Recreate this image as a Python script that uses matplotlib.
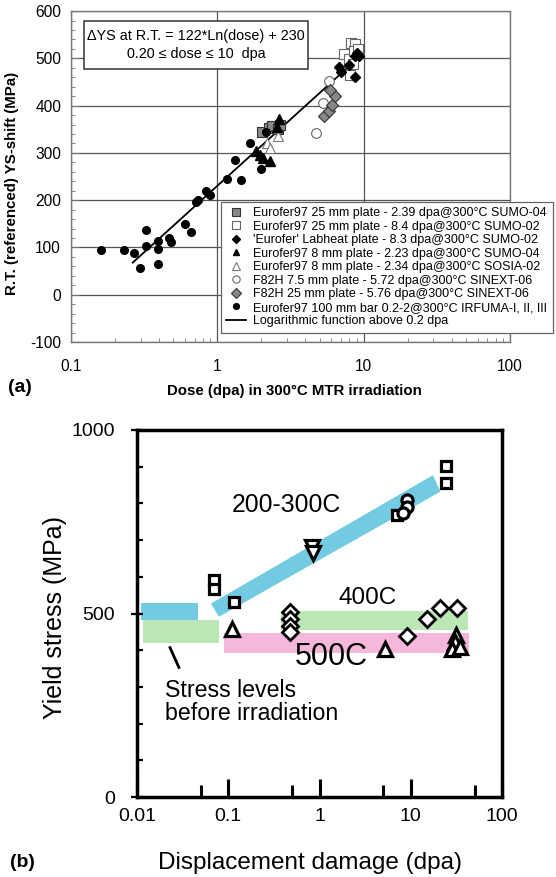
import numpy as np
import matplotlib.pyplot as plt
from matplotlib.patches import Rectangle
from matplotlib.ticker import FixedLocator, NullFormatter, MultipleLocator, LogLocator

plt.rcParams['font.family'] = ['Liberation Sans', 'DejaVu Sans']
plt.rcParams['axes.unicode_minus'] = False

## ---- panel (a) data : dose (dpa) / YS-shift (MPa)
irfuma_dose = [0.16, 0.231, 0.27, 0.297, 0.326, 0.326, 0.393, 0.396, 0.394, 0.471, 0.482,
               0.606, 0.66, 0.717, 0.744, 0.836, 0.894, 1.16, 1.32, 1.46, 1.68, 2.0, 2.16]
irfuma_ys = [94, 94, 89, 56, 137, 104, 114, 96, 64, 121, 111,
             150, 133, 197, 200, 220, 211, 245, 284, 243, 320, 266, 345]

sumo04_sq_dose = [2.02, 2.25, 2.36, 2.6, 2.7]
sumo04_sq_ys = [344, 352, 357, 350, 360]

sumo02_sq_dose = [7.3, 7.9, 8.2, 8.8, 8.6, 8.4, 8.1, 9.2]
sumo02_sq_ys = [510, 498, 532, 530, 515, 488, 465, 520]

labheat_dose = [6.75, 7.0, 8.0, 8.7, 9.0, 9.3, 8.7]
labheat_ys = [482, 472, 485, 505, 512, 505, 460]

sumo04_tri_dose = [1.85, 1.97, 2.07, 2.3, 2.66, 2.55]
sumo04_tri_ys = [305, 296, 289, 282, 372, 355]

sosia_dose = [2.2, 2.3, 2.6]
sosia_ys = [320, 310, 335]

f82h_75_dose = [4.74, 5.3, 5.8]
f82h_75_ys = [342, 405, 452]

f82h_25_dose = [5.38, 5.76, 6.1, 6.4, 5.9]
f82h_25_ys = [379, 388, 402, 420, 432]

fit_dose = [0.265, 9.2]      # ends of 122*Ln(dose)+230
fit_ys = [68, 501]

## ---- panel (b) data : dpa / yield stress (MPa)
sq_dpa = [0.07, 0.07, 0.116, 7.1, 24.5, 24.5]
sq_ys = [591, 568, 532, 768, 903, 855]
circ_dpa = [9.0, 9.0, 8.3]
circ_ys = [810, 790, 775]
vtri_dpa = [0.82, 0.85]
vtri_ys = [682, 665]
tri_dpa = [0.111, 5.2, 31.0, 30.8, 28.6, 34.3]
tri_ys = [459, 402, 441, 423, 402, 409]
dia_dpa = [0.47, 0.47, 0.47, 0.47, 9.1, 15.1, 21.1, 32.1]
dia_ys = [505, 485, 465, 450, 438, 484, 514, 514]

blue_left_x = [0.0112, 0.0462, 0.0462, 0.0112]
blue_left_y = [482, 482, 529, 529]
green_left_x = [0.0115, 0.079, 0.079, 0.0115]
green_left_y = [420, 420, 482, 482]
pink_x = [0.0896, 44, 44, 0.0896]
pink_y = [393, 393, 446, 446]
green_right_x = [0.38, 42.4, 42.4, 0.38]
green_right_y = [455, 455, 507, 507]
blue_band_x = [0.0646, 17.5, 21.1, 0.079]
blue_band_y = [527, 877, 832, 491]
pointer_x = [0.023, 0.0288]
pointer_y = [407, 353]

fig = plt.figure(figsize=(5.56, 8.77), dpi=100)

## ================= (a)
ax = fig.add_axes([0.1273, 0.61, 0.79, 0.3774])
ax.set_xscale('log')
ax.set_xlim(0.1, 100)
ax.set_ylim(-100, 600)
ax.set_yticks(np.arange(-100, 601, 100))
ax.yaxis.set_minor_locator(MultipleLocator(20))
ax.set_xticks([0.1, 1, 10, 100])
ax.set_xticklabels(['0.1', '1', '10', '100'])
ax.xaxis.set_minor_locator(LogLocator(base=10, subs=np.arange(2, 10)))
ax.xaxis.set_minor_formatter(NullFormatter())
ax.tick_params(which='both', direction='in', colors='#777', labelcolor='black', labelsize=11.2)
ax.tick_params(axis='y', which='major', length=6, pad=7)
ax.tick_params(axis='y', which='minor', length=3)
ax.tick_params(axis='x', which='major', length=0, pad=12)
ax.tick_params(axis='x', which='minor', length=3)
for s in ax.spines.values():
    s.set_color('#777')
    s.set_linewidth(1.0)
ax.grid(True, which='major', color='#555', linewidth=0.9)
ax.set_axisbelow(True)

ax.plot(fit_dose, fit_ys, color='black', lw=1.3, zorder=3, label='Logarithmic function above 0.2 dpa')
ax.plot(sumo04_sq_dose, sumo04_sq_ys, 's', ms=7, mfc='#888', mec='#333', mew=0.8, zorder=4,
        label='Eurofer97 25 mm plate - 2.39 dpa@300°C SUMO-04')
ax.plot(sumo02_sq_dose, sumo02_sq_ys, 's', ms=7, mfc='white', mec='#666', mew=0.8, zorder=4,
        label='Eurofer97 25 mm plate - 8.4 dpa@300°C SUMO-02')
ax.plot(labheat_dose, labheat_ys, 'D', ms=5.5, mfc='black', mec='black', zorder=5,
        label="'Eurofer' Labheat plate - 8.3 dpa@300°C SUMO-02")
ax.plot(sumo04_tri_dose, sumo04_tri_ys, '^', ms=6.5, mfc='black', mec='black', zorder=5,
        label='Eurofer97 8 mm plate - 2.23 dpa@300°C SUMO-04')
ax.plot(sosia_dose, sosia_ys, '^', ms=7, mfc='white', mec='#777', mew=0.8, zorder=4,
        label='Eurofer97 8 mm plate - 2.34 dpa@300°C SOSIA-02')
ax.plot(f82h_75_dose, f82h_75_ys, 'o', ms=7, mfc='white', mec='#666', mew=0.8, zorder=4,
        label='F82H 7.5 mm plate - 5.72 dpa@300°C SINEXT-06')
ax.plot(f82h_25_dose, f82h_25_ys, 'D', ms=6.5, mfc='#888', mec='#333', mew=0.8, zorder=4,
        label='F82H 25 mm plate - 5.76 dpa@300°C SINEXT-06')
ax.plot(irfuma_dose, irfuma_ys, 'o', ms=5.5, mfc='black', mec='black', zorder=5,
        label='Eurofer97 100 mm bar 0.2-2@300°C IRFUMA-I, II, III')

h, l = ax.get_legend_handles_labels()
order = [1, 2, 3, 4, 5, 6, 7, 8, 0]
leg = fig.legend([h[i] for i in order], [l[i] for i in order], loc='upper left',
                 bbox_to_anchor=(0.397, 0.770), fontsize=9, frameon=True, fancybox=False,
                 edgecolor='#666', framealpha=1, borderpad=0.45, borderaxespad=0,
                 handlelength=1.6, handletextpad=0.55, labelspacing=0.12, markerscale=0.75)
leg.get_frame().set_linewidth(0.9)

ax.add_patch(Rectangle((0.030, 0.824), 0.510, 0.147, transform=ax.transAxes,
                       facecolor='white', edgecolor='#333', lw=1.1, zorder=6))
ax.text(0.285, 0.897, 'ΔYS at R.T. = 122*Ln(dose) + 230\n0.20 ≤ dose ≤ 10  dpa',
        transform=ax.transAxes, ha='center', va='center', fontsize=10.4, linespacing=1.4, zorder=7)

ax.set_ylabel('R.T. (referenced) YS-shift (MPa)', fontsize=10.8, fontweight='bold')
ax.yaxis.set_label_coords(-0.117, 0.48)
ax.set_xlabel('Dose (dpa) in 300°C MTR irradiation', fontsize=10.8, fontweight='bold')
ax.xaxis.set_label_coords(0.508, -0.127)
fig.text(0.035, 0.5576, '(a)', fontsize=14, fontweight='bold', ha='center', va='center')

## ================= (b)
bx = fig.add_axes([0.2464, 0.0912, 0.6565, 0.4185])
bx.set_xscale('log')
bx.set_xlim(0.01, 100)
bx.set_ylim(0, 1000)

bx.fill(blue_left_x, blue_left_y, color='#72cbe0', lw=0, zorder=1)
bx.fill(green_left_x, green_left_y, color='#bde6b6', lw=0, zorder=1)
bx.fill(pink_x, pink_y, color='#f5b8da', lw=0, zorder=1)
bx.fill(green_right_x, green_right_y, color='#bde6b6', lw=0, zorder=1)
bx.fill(blue_band_x, blue_band_y, color='#72cbe0', lw=0, zorder=1)
bx.plot(pointer_x, pointer_y, color='black', lw=2, zorder=2)

mk = dict(ls='none', mfc='white', mec='black', zorder=4)
bx.plot(sq_dpa, sq_ys, 's', ms=7, mew=2.3, **mk)
bx.plot(circ_dpa, circ_ys, 'o', ms=8, mew=2.3, **mk)
bx.plot(vtri_dpa, vtri_ys, 'v', ms=10, mew=2.3, **mk)
bx.plot(tri_dpa, tri_ys, '^', ms=10, mew=2.3, **mk)
bx.plot(dia_dpa, dia_ys, 'D', ms=8, mew=2.0, **mk)

bx.text(0.11, 795, '200-300C', fontsize=17.8, va='center', ha='left')
bx.text(1.6, 542, '400C', fontsize=17.5, va='center', ha='left')
bx.text(0.53, 381, '500C', fontsize=22, va='center', ha='left')
bx.text(0.0202, 258, 'Stress levels\nbefore irradiation', fontsize=16.7, va='center', ha='left',
        linespacing=1.0)

bx.xaxis.set_major_locator(FixedLocator([0.01, 0.1, 1, 10, 100]))
bx.xaxis.set_minor_locator(FixedLocator([0.05, 0.5, 5, 50]))
bx.xaxis.set_minor_formatter(NullFormatter())
bx.set_xticklabels(['0.01', '0.1', '1', '10', '100'])
bx.yaxis.set_major_locator(FixedLocator([0, 500, 1000]))
bx.yaxis.set_minor_locator(MultipleLocator(100))
bx.set_yticklabels(['0', '500', '1000'])
bx.tick_params(axis='x', which='major', direction='in', length=13, width=2.2, labelsize=14, pad=8)
bx.tick_params(axis='x', which='minor', direction='in', length=8.5, width=2.2)
bx.tick_params(axis='y', which='major', direction='inout', length=8, width=1.6, labelsize=14, pad=12)
bx.tick_params(axis='y', which='minor', direction='in', length=4, width=1.6)
for s in bx.spines.values():
    s.set_linewidth(2.5)

bx.set_ylabel('Yield stress (MPa)', fontsize=18)
bx.yaxis.set_label_coords(-0.193, 0.489)
bx.set_xlabel('Displacement damage (dpa)', fontsize=17.5)
bx.xaxis.set_label_coords(0.473, -0.150)
fig.text(0.04, 0.016, '(b)', fontsize=14, fontweight='bold', ha='center', va='center')

fig.savefig('out.png', dpi=100)
